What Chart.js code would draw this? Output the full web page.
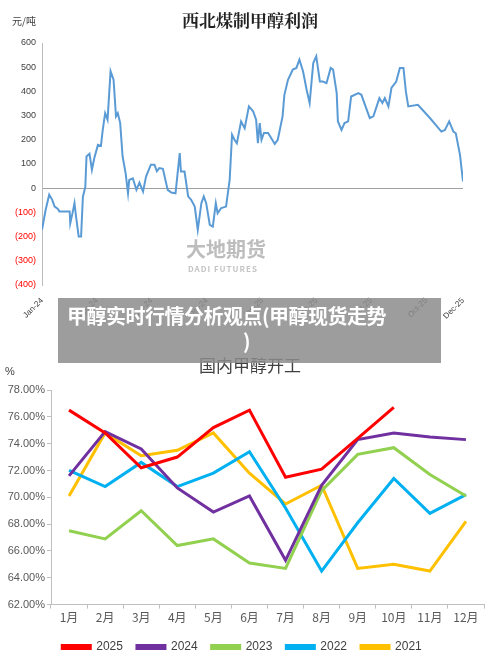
<!DOCTYPE html>
<html><head><meta charset="utf-8">
<script src="https://cdn.jsdelivr.net/npm/chart.js@4"></script>
<style>
body{margin:0;width:500px;height:663px;background:#fff;position:relative;overflow:hidden;font-family:"Noto Sans CJK SC",sans-serif}
#c1{position:absolute;left:0;top:0}
#c2{position:absolute;left:0;top:340px}
#banner{position:absolute;left:58px;top:298px;width:383px;height:65px;background:rgba(140,140,140,0.85);color:#fff;font-weight:bold;font-size:20px;line-height:25px;padding:5px 0 0 9px;box-sizing:border-box;text-align:left;white-space:nowrap;letter-spacing:-0.5px}
#banner span{display:block;padding-left:176px}
#wm{position:absolute;left:186px;top:234px;color:#bdbdbd;font-weight:bold;font-size:20px}
#wm2{position:absolute;left:188px;top:263px;color:#c4c4c4;font-size:8px;font-weight:bold;letter-spacing:1px}
</style></head><body>
<canvas id="c1" width="500" height="320"></canvas>
<canvas id="c2" width="500" height="323"></canvas>
<div id="wm">大地期货</div><div id="wm2">DADI FUTURES</div>
<div id="banner">甲醇实时行情分析观点(甲醇现货走势<span>)</span></div>
<script>
// Top chart: Northwest coal-to-methanol profit (days since Jan 1 2024, yuan/ton)
const profitDays=[0,6,12,17,21,26,29,46,47,51,54,57,61,65,68,72,74,79,83,87,93,98,101,105,109,114,119,123,126,130,134,139,143,145,151,157,162,168,173,181,187,191,195,201,209,215,222,229,231,237,243,248,254,259,265,269,273,279,284,289,292,298,306,312,316,320,324,331,337,344,351,356,359,362,365,369,376,387,392,400,403,409,413,417,423,428,434,440,445,451,456,462,467,473,480,484,490,492,498,503,509,514,526,531,545,551,561,566,570,576,581,589,595,601,605,609,625,645,664,670,677,684,688,695,700];
const profitVals=[-172,-90,-27,-48,-76,-85,-96,-96,-145,-100,-62,-125,-200,-200,-35,5,131,142,76,125,179,175,241,310,283,483,448,297,310,269,131,62,-21,34,41,-7,23,-14,48,97,97,70,83,80,-7,-18,-21,145,69,69,-34,-48,-76,-172,-62,-34,-62,-152,-159,-62,-103,-82,-76,34,221,200,186,276,248,338,318,283,186,269,200,228,228,183,200,297,386,448,469,490,497,531,483,407,352,517,545,441,441,434,497,490,393,276,241,269,276,379,393,386,290,297,372,352,372,338,414,441,497,497,400,338,345,290,234,241,276,234,227,138,28];
const profitTickDays=[0,91,182,274,366,456,547,639,700];
const profitTickLabels=['Jan-24','Apr-24','Jul-24','Oct-24','Jan-25','Apr-25','Jul-25','Oct-25','Dec-25'];

// Bottom chart: domestic methanol operating rate (%)
const months=['1月','2月','3月','4月','5月','6月','7月','8月','9月','10月','11月','12月'];
const rate2025=[76.5,74.8,72.2,73.0,75.2,76.5,71.5,72.1,74.4,76.7];
const rate2024=[71.6,74.9,73.6,70.7,68.9,70.1,65.3,70.9,74.3,74.8,74.5,74.3];
const rate2023=[67.5,66.9,69.0,66.4,66.9,65.1,64.7,70.5,73.2,73.7,71.7,70.1];
const rate2022=[72.0,70.8,72.6,70.8,71.8,73.4,69.2,64.5,68.1,71.4,68.8,70.2];
const rate2021=[70.1,74.8,73.1,73.5,74.8,71.8,69.5,70.9,64.7,65.0,64.5,68.2];

const titlePlug={id:'t',afterDraw(c,a,o){const x=c.ctx;x.save();x.textAlign='center';x.fillStyle=o.color;x.font=o.font;x.fillText(o.text,o.x,o.y);x.textAlign='left';x.font=o.ufont;x.fillStyle='#404040';x.fillText(o.unit,o.ux,o.uy);x.restore();}};

new Chart(document.getElementById('c1'),{type:'line',
 data:{datasets:[{data:profitDays.map((d,i)=>({x:d,y:profitVals[i]})),borderColor:'#5b9bd5',borderWidth:2,pointRadius:0,tension:0}]},
 options:{responsive:false,animation:false,layout:{padding:{top:43,right:37,left:0,bottom:0}},
  plugins:{legend:{display:false},tooltip:{enabled:false},
   t:{text:'西北煤制甲醇利润',x:250,y:27,color:'#222',font:'bold 17px "Noto Serif CJK SC","Noto Sans CJK SC",serif',unit:'元/吨',ux:12,uy:25,ufont:'10px "Noto Sans CJK SC"'}},
  scales:{
   x:{type:'linear',min:0,max:700,afterBuildTicks:s=>{s.ticks=profitTickDays.map(v=>({value:v}));},afterFit:s=>{s.height=35;},
     grid:{display:false},border:{display:false},
     ticks:{autoSkip:false,maxRotation:45,minRotation:45,font:{size:8,family:'Liberation Sans'},color:'#404040',callback:(v)=>profitTickLabels[profitTickDays.indexOf(v)]}},
   y:{min:-400,max:600,afterFit:s=>{s.width=42;},
     grid:{display:true,drawTicks:false,color:c=>c.tick.value===0?'#a0a0a0':'transparent',lineWidth:1},
     border:{color:'#bbb'},
     ticks:{stepSize:100,padding:6,font:{size:9,family:'Liberation Sans'},color:c=>c.tick.value<0?'#ff0000':'#404040',callback:v=>v<0?'('+(-v)+')':v}}}},
 plugins:[titlePlug]});

const mk=(l,d,c)=>({label:l,data:d,borderColor:c,backgroundColor:c,borderWidth:3,pointRadius:0,tension:0});
new Chart(document.getElementById('c2'),{type:'line',
 data:{labels:months,datasets:[mk('2025',rate2025,'#ff0000'),mk('2024',rate2024,'#7030a0'),mk('2023',rate2023,'#92d050'),mk('2022',rate2022,'#00b0f0'),mk('2021',rate2021,'#ffc000')]},
 options:{responsive:false,animation:false,layout:{padding:{top:50,right:16,left:0,bottom:0}},
  plugins:{tooltip:{enabled:false},
   legend:{position:'bottom',labels:{boxWidth:28,boxHeight:3,padding:14,font:{size:12,family:'Liberation Sans'},color:'#404040'}},
   t:{text:'国内甲醇开工',x:250,y:26,color:'#404040',font:'17px "Noto Sans CJK SC"',unit:'%',ux:5,uy:32,ufont:'11px "Liberation Sans"'}},
  scales:{
   x:{offset:true,grid:{display:true,offset:true,drawOnChartArea:false,tickLength:4,color:'#bfbfbf'},border:{color:'#bfbfbf'},
     ticks:{font:{size:12,family:'Noto Sans CJK SC'},color:'#595959',padding:2}},
   y:{min:62,max:78,afterFit:s=>{s.width=51;},grid:{drawOnChartArea:false,tickLength:4,color:'#bfbfbf'},border:{color:'#bfbfbf'},
     ticks:{stepSize:2,font:{size:11,family:'Liberation Sans'},color:'#595959',padding:2,callback:v=>v.toFixed(2)+'%'}}}},
 plugins:[titlePlug]});
</script></body></html>
